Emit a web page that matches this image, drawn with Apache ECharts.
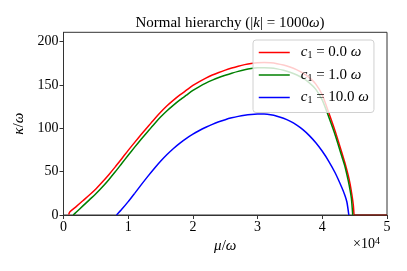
<!DOCTYPE html>
<html>
<head>
<meta charset="utf-8">
<script src="https://cdn.jsdelivr.net/npm/echarts@6/dist/echarts.min.js"></script>
<style>html,body{margin:0;padding:0;background:#fff;}#c{width:407px;height:271px;}</style>
</head>
<body>
<div id="c"></div>
<script>
// ---- data (mu in units of 1e4 omega, kappa in units of omega) ----
const xTicks = [0, 1, 2, 3, 4, 5];
const yTicks = [0, 50, 100, 150, 200];
const seriesNames = ['c1 = 0.0', 'c1 = 1.0', 'c1 = 10.0'];
const legendLabels = ['0.0', '1.0', '10.0'];

const redMu = [0.08,0.1,0.2,0.3,0.4,0.5,0.6,0.7,0.8,0.9,1.0,1.1,1.2,1.3,1.4,1.5,1.6,1.7,1.8,1.9,2.0,2.1,2.2,2.3,2.4,2.5,2.6,2.7,2.8,2.9,3.0,3.1,3.2,3.3,3.4,3.5,3.6,3.7,3.8,3.9,4.0,4.1,4.2,4.3,4.35,4.4,4.43,4.46,4.48,4.49];
const redKappa = [0.5,3.8,10,16.5,23,30,38,46.5,55.5,65,74.6,83.8,92.8,101.6,110.3,118.5,126,132.5,138.5,144,149.5,154,158,161.5,164.5,167.2,169.6,171.7,173.5,174.9,175.8,176,175.6,174.6,173,170.8,167.8,163.8,158.5,151,138.5,118,96.5,72.5,60,46,35.5,22,11,0];

const greenMu = [0.15,0.2,0.3,0.4,0.5,0.6,0.7,0.8,0.9,1.0,1.1,1.2,1.3,1.4,1.5,1.6,1.7,1.8,1.9,2.0,2.1,2.2,2.3,2.4,2.5,2.6,2.7,2.8,2.9,3.0,3.1,3.2,3.3,3.4,3.5,3.6,3.7,3.8,3.9,4.0,4.1,4.2,4.3,4.35,4.4,4.43,4.45,4.47];
const greenKappa = [0,3.5,10.5,17.5,24.5,32.3,40.8,49.8,59.4,69,78.3,87.3,96.1,104.8,113,120.3,126.8,132.8,138.3,143.7,148.2,152.2,155.6,158.6,161.2,163.6,165.7,167.5,168.9,169.8,170,169.6,168.6,167,164.8,161.8,157.8,152.5,145,132.5,113,92,68,56,40,28.5,19,0];

const blueMu = [0.82,0.9,1.0,1.1,1.2,1.3,1.4,1.5,1.6,1.7,1.8,1.9,2.0,2.1,2.2,2.3,2.4,2.5,2.6,2.7,2.8,2.9,3.0,3.1,3.2,3.3,3.4,3.5,3.6,3.7,3.8,3.9,4.0,4.1,4.2,4.3,4.35,4.38,4.41];
const blueKappa = [0,6.5,15.4,25,34.8,44.3,53.4,62,69.8,76.8,83,88.4,93.2,97.5,101.3,104.6,107.5,110,112.1,113.8,115.1,116,116.5,116.4,115.6,114,111.6,108.3,104,98.5,91.6,83.3,73.5,62,48.5,32,22.5,15,0];

// zero branch beyond the end point (red and green overlapping on the axis)
const tailMu = [4.49, 5.0];
const tailKappa = [0, 0];

const pairs = (xs, ys) => xs.map((x, i) => [x, ys[i]]);
const FONT = 'Liberation Serif';

const chart = echarts.init(document.getElementById('c'), null, {renderer: 'canvas'});
const lineSeries = (name, xs, ys, color) => ({
  name, type: 'line', data: pairs(xs, ys), symbol: 'none', smooth: 0.25,
  lineStyle: {color, width: 1.5}, itemStyle: {color}, animation: false, z: 2
});

chart.setOption({
  animation: false,
  title: {
    text: '{t|Normal hierarchy (|}{i|k}{t|| = 1000}{i|ω}{t|)}',
    left: 225, top: 11, textAlign: 'center',
    textStyle: {
      fontWeight: 'normal',
      rich: {
        t: {fontFamily: FONT, fontSize: 15, fontWeight: 'normal', color: '#000'},
        i: {fontFamily: FONT, fontSize: 15, fontWeight: 'normal', fontStyle: 'italic', color: '#000'}
      }
    }
  },
  grid: {left: 63.5, right: 20, top: 32.3, bottom: 56, show: true, borderColor: '#333', borderWidth: 1, backgroundColor: 'transparent'},
  xAxis: {
    type: 'value', min: 0, max: 5, interval: 1,
    name: '{i|μ}{t|/}{i|ω}', nameLocation: 'middle', nameGap: 24,
    nameTextStyle: {rich: {
      i: {fontFamily: FONT, fontSize: 15, fontStyle: 'italic', color: '#000'},
      t: {fontFamily: FONT, fontSize: 15, color: '#000'}
    }},
    axisLine: {show: true, lineStyle: {color: '#333', width: 1}},
    axisTick: {show: true, length: 4, lineStyle: {color: '#333'}, customValues: xTicks},
    axisLabel: {fontFamily: FONT, fontSize: 14, color: '#000', margin: 5, customValues: xTicks},
    splitLine: {show: false}
  },
  yAxis: {
    type: 'value', min: 0, max: 210.8,
    name: '{i|κ}{t|/}{i|ω}', nameLocation: 'middle', nameGap: 27, nameRotate: 90,
    nameTextStyle: {rich: {
      i: {fontFamily: FONT, fontSize: 15, fontStyle: 'italic', color: '#000'},
      t: {fontFamily: FONT, fontSize: 15, color: '#000'}
    }},
    axisLine: {show: true, lineStyle: {color: '#333', width: 1}},
    axisTick: {show: true, length: 4, lineStyle: {color: '#333'}, customValues: yTicks},
    axisLabel: {fontFamily: FONT, fontSize: 14, color: '#000', margin: 5, customValues: yTicks},
    splitLine: {show: false}
  },
  legend: {
    data: seriesNames,
    orient: 'vertical', left: 253, top: 40,
    itemWidth: 31, itemHeight: 14, itemGap: 7,
    padding: [5, 5, 7, 5],
    backgroundColor: 'rgba(255,255,255,0.8)',
    borderColor: '#d0d0d0', borderWidth: 1, borderRadius: 3,
    itemStyle: {opacity: 0},
    lineStyle: {width: 1.5},
    formatter: name => '{i|c}{s|1}{t| = ' + legendLabels[seriesNames.indexOf(name)] + ' }{i|ω}',
    textStyle: {
      padding: [0, 0, 0, 6],
      rich: {
        i: {fontFamily: FONT, fontSize: 15, fontStyle: 'italic', color: '#000'},
        s: {fontFamily: FONT, fontSize: 10, color: '#000', verticalAlign: 'bottom', padding: [6, 0, 0, 0]},
        t: {fontFamily: FONT, fontSize: 15, color: '#000'}
      }
    }
  },
  graphic: [{
    type: 'text', left: 353, top: 236,
    style: {
      text: '{t|×10}{s|4}',
      rich: {
        t: {fontFamily: FONT, fontSize: 14, fill: '#000'},
        s: {fontFamily: FONT, fontSize: 10, fill: '#000', verticalAlign: 'top', padding: [0, 0, 6, 0]}
      }
    }
  }],
  series: [
    lineSeries(seriesNames[0], redMu, redKappa, '#ff0000'),
    lineSeries(seriesNames[1], greenMu, greenKappa, '#008000'),
    lineSeries(seriesNames[2], blueMu, blueKappa, '#0000ff'),
    Object.assign(lineSeries('tail', tailMu, tailKappa, '#7f1d10'), {legendHoverLink: false})
  ]
});
</script>
</body>
</html>
